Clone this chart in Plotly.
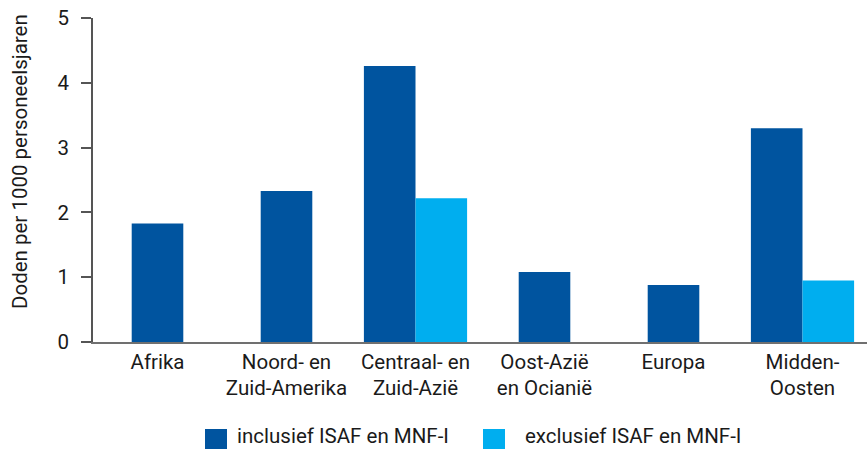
import plotly.graph_objects as go

# Deaths per 1000 personnel-years by region, with and without ISAF / MNF-I
categories = ["Afrika", "Noord- en<br>Zuid-Amerika", "Centraal- en<br>Zuid-Azië",
              "Oost-Azië<br>en Ocianië", "Europa", "Midden-<br>Oosten"]
inclusief = [1.83, 2.33, 4.26, 1.08, 0.88, 3.30]
exclusief = [None, None, 2.22, None, None, 0.95]
series_names = ["inclusief ISAF en MNF-I", "exclusief ISAF en MNF-I"]
y_ticks = [0, 1, 2, 3, 4, 5]

DARK = "#00549F"
LIGHT = "#00AEEF"
FONT = "Roboto"
FS = 20.5
BAR_W = 0.4

# single bars sit centred on their category, pairs sit side by side
dark_offset = [-BAR_W if e is not None else -BAR_W / 2 for e in exclusief]

fig = go.Figure()
fig.add_trace(go.Bar(x=categories, y=inclusief, width=BAR_W, offset=dark_offset,
                     marker=dict(color=DARK, line=dict(width=0)),
                     name=series_names[0], showlegend=False))
fig.add_trace(go.Bar(x=categories, y=exclusief, width=BAR_W, offset=0,
                     marker=dict(color=LIGHT, line=dict(width=0)),
                     name=series_names[1], showlegend=False))

W, H = 867, 449
L, R, T, B = 93, 0, 18, 107
pw, ph = W - L - R, H - T - B


def px(x):
    return (x - L) / pw


def py(y):
    return (H - B - y) / ph


# legend drawn below the plot
legend_items = [(205, 235, DARK, series_names[0]), (483, 523, LIGHT, series_names[1])]
for sx, tx, col, label in legend_items:
    fig.add_shape(type="rect", xref="paper", yref="paper",
                  x0=px(sx), x1=px(sx + 22), y0=py(451), y1=py(429),
                  fillcolor=col, line=dict(width=0))
    fig.add_annotation(xref="paper", yref="paper", x=px(tx), y=py(436),
                       text=label, showarrow=False, xanchor="left", yanchor="middle",
                       font=dict(family=FONT, size=FS, color="#1a1a1a"))

fig.add_annotation(xref="paper", yref="paper", x=px(20), y=py(162),
                   text="Doden per 1000 personeelsjaren", textangle=-90,
                   showarrow=False, xanchor="center", yanchor="middle",
                   font=dict(family=FONT, size=FS, color="#1a1a1a"))

fig.update_layout(
    width=W, height=H,
    margin=dict(l=L, r=R, t=T, b=B),
    barmode="overlay",
    plot_bgcolor="white", paper_bgcolor="white",
    font=dict(family=FONT, size=FS, color="#1a1a1a"),
    xaxis=dict(range=[-0.5, 5.5], showline=True, linecolor="#707070", linewidth=2,
               ticks="", showgrid=False, zeroline=False, fixedrange=True),
    yaxis=dict(range=[0, 5], tickvals=y_ticks, showline=True, linecolor="#555555",
               linewidth=1.5, ticks="outside", ticklen=10, tickcolor="#555555",
               tickwidth=1.5, showgrid=False, zeroline=False, ticklabelstandoff=8),
)

fig.write_html("out.html")
